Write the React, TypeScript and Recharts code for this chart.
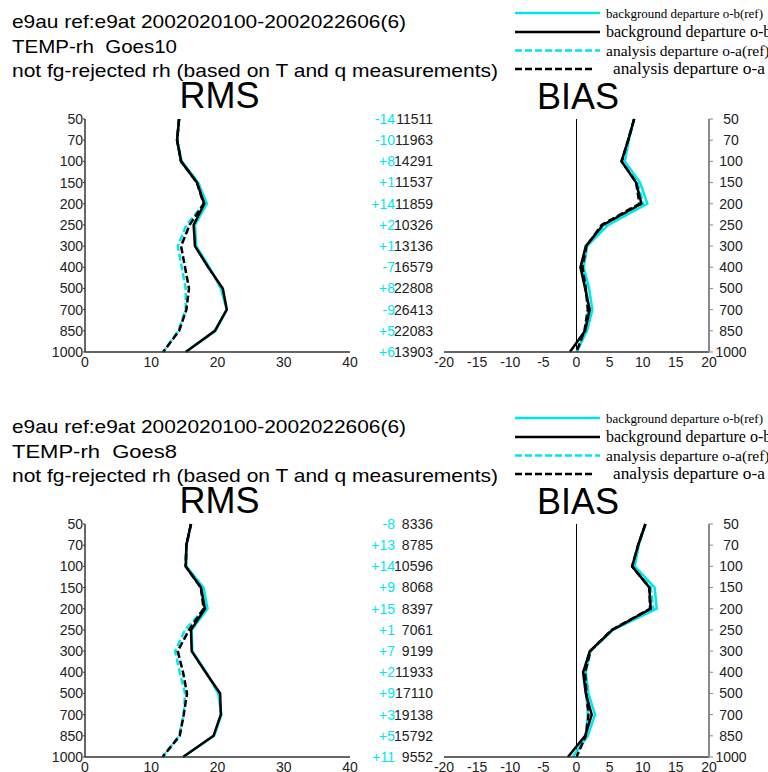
import React from 'react';
import { LineChart, Line, XAxis, YAxis, ReferenceLine } from 'recharts';

const CYAN = '#00e6f0';
const SANS = '"Liberation Sans", Arial, sans-serif';
const SERIF = '"Liberation Serif", "Times New Roman", serif';

// pressure levels (hPa), top to bottom
const levels = ['50', '70', '100', '150', '200', '250', '300', '400', '500', '700', '850', '1000'];
const rmsTicks = [0, 10, 20, 30, 40];
const biasTicks = [-20, -15, -10, -5, 0, 5, 10, 15, 20];

// Goes10
const g10RmsObRef = [14.2, 13.9, 14.6, 17.1, 18.4, 16.6, 16.8, 18.8, 20.5, 21.4, 19.7, 15.2];
const g10RmsOb = [14.2, 13.9, 14.5, 16.9, 18.0, 16.4, 16.6, 18.6, 20.8, 21.4, 19.6, 15.2];
const g10RmsOaRef = [14.2, 13.9, 14.5, 16.9, 18.0, 15.3, 14.0, 14.6, 15.2, 15.2, 14.1, 11.8];
const g10RmsOa = [14.2, 13.9, 14.5, 16.9, 17.9, 15.8, 14.5, 15.1, 15.7, 15.3, 14.2, 11.8];
const g10BiasObRef = [8.7, 7.9, 7.3, 9.6, 10.7, 4.8, 1.6, 1.1, 1.9, 2.4, 1.6, 0.0];
const g10BiasOb = [8.7, 7.8, 6.8, 9.0, 9.8, 4.0, 1.4, 0.6, 1.3, 2.0, 1.3, -1.0];
const g10BiasOaRef = [8.7, 7.8, 6.9, 9.2, 10.1, 4.3, 1.6, 0.9, 1.5, 1.8, 1.3, 0.1];
const g10BiasOa = [8.7, 7.8, 6.8, 9.0, 9.5, 3.8, 1.5, 0.9, 1.4, 1.7, 1.2, 0.0];
const g10Diff = ['-14', '-10', '+8', '+1', '+14', '+2', '+1', '-7', '+8', '-9', '+5', '+6'];
const g10Count = ['11511', '11963', '14291', '11537', '11859', '10326', '13136', '16579', '22808', '26413', '22083', '13903'];

// Goes8
const g8RmsObRef = [16.0, 15.3, 15.3, 17.9, 18.5, 16.1, 16.2, 18.3, 20.1, 20.6, 19.5, 14.8];
const g8RmsOb = [16.0, 15.3, 15.2, 17.5, 18.1, 16.0, 16.1, 18.2, 20.4, 20.5, 19.4, 14.8];
const g8RmsOaRef = [16.0, 15.3, 15.2, 17.5, 18.0, 15.1, 13.6, 14.3, 15.1, 14.9, 14.2, 11.7];
const g8RmsOa = [16.0, 15.3, 15.2, 17.5, 17.9, 15.7, 14.0, 14.8, 15.4, 14.9, 14.3, 11.7];
const g8BiasObRef = [10.4, 9.4, 8.8, 11.8, 12.1, 5.5, 2.1, 1.4, 1.8, 2.8, 1.7, -0.6];
const g8BiasOb = [10.4, 9.3, 8.4, 11.0, 11.2, 5.4, 2.0, 1.0, 1.4, 2.3, 1.3, -1.3];
const g8BiasOaRef = [10.4, 9.3, 8.5, 11.2, 11.6, 5.5, 2.1, 1.3, 1.5, 1.7, 1.4, -0.4];
const g8BiasOa = [10.4, 9.3, 8.4, 11.0, 11.1, 5.3, 2.1, 1.3, 1.5, 1.8, 1.4, 0.0];
const g8Diff = ['-8', '+13', '+14', '+9', '+15', '+1', '+7', '+2', '+9', '+3', '+5', '+11'];
const g8Count = ['8336', '8785', '10596', '8068', '8397', '7061', '9199', '11933', '17110', '19138', '15792', '9552'];

// drawing order: cyan under black
const series = [
  { key: 'obRef', name: 'background departure o-b(ref)', color: CYAN, dash: undefined },
  { key: 'oaRef', name: 'analysis departure o-a(ref)', color: CYAN, dash: '7 3' },
  { key: 'ob', name: 'background departure o-b', color: '#000', dash: undefined },
  { key: 'oa', name: 'analysis departure o-a', color: '#000', dash: '7 3' },
];

// legend rows as drawn in the original (order, font size, text x)
const legendRows = [
  { key: 'obRef', size: 13, tx: 606, y: 13, len: 157 },
  { key: 'ob', size: 16, tx: 606, y: 32, len: 0 },
  { key: 'oaRef', size: 15.5, tx: 606, y: 50.5, len: 0 },
  { key: 'oa', size: 16.5, tx: 613, y: 69, len: 152 },
];

const mkRows = (ob: number[], obRef: number[], oa: number[], oaRef: number[]) =>
  levels.map((level, i) => ({ level, ob: ob[i], obRef: obRef[i], oa: oa[i], oaRef: oaRef[i] }));

const tickFont = { fill: '#222', fontSize: 14, fontFamily: SANS };

interface PanelProps {
  top: number;
  name: string;
  rms: any[];
  bias: any[];
  diff: string[];
  count: string[];
}

const Panel = ({ top, name, rms, bias, diff, count }: PanelProps) => {
  const CountTick = (p: any) => {
    const i = levels.indexOf(String(p.payload.value));
    return (
      <g>
        <text x={p.x + 45} y={p.y} dy="0.35em" textAnchor="end" fill={CYAN} fontSize={14} fontFamily={SANS}>{diff[i]}</text>
        <text x={p.x + 83} y={p.y} dy="0.35em" textAnchor="end" fill="#222" fontSize={14} fontFamily={SANS}>{count[i]}</text>
      </g>
    );
  };
  const LevelTick = (p: any) => (
    <text x={p.x + 16} y={p.y} dy="0.35em" textAnchor="middle" fill="#222" fontSize={14} fontFamily={SANS}>
      {p.payload.value}
    </text>
  );

  return (
    <>
      <svg width={768} height={125} style={{ position: 'absolute', left: 0, top }}>
        <text x={12} y={28} fontSize={19} fontFamily={SANS} fill="#000" textLength={394} lengthAdjust="spacingAndGlyphs">
          e9au ref:e9at 2002020100-2002022606(6)
        </text>
        <text x={12} y={53} fontSize={19} fontFamily={SANS} fill="#000" textLength={165} lengthAdjust="spacingAndGlyphs" style={{ whiteSpace: 'pre' }}>
          {`TEMP-rh  ${name}`}
        </text>
        <text x={12} y={77} fontSize={19} fontFamily={SANS} fill="#000" textLength={486} lengthAdjust="spacingAndGlyphs">
          not fg-rejected rh (based on T and q measurements)
        </text>
        <text x={219.5} y={108} fontSize={36} fontFamily={SANS} textAnchor="middle" fill="#000">RMS</text>
        <text x={578} y={109} fontSize={36} fontFamily={SANS} textAnchor="middle" fill="#000">BIAS</text>
        {legendRows.map((r) => {
          const s = series.find((d) => d.key === r.key)!;
          return (
            <g key={r.key}>
              <line x1={515} x2={r.key === 'oa' ? 593 : 600} y1={r.y} y2={r.y} stroke={s.color} strokeWidth={2.5} strokeDasharray={s.dash} />
              <text
                x={r.tx}
                y={r.y + 5}
                fontSize={r.size}
                fontFamily={SERIF}
                fill="#000"
                {...(r.len ? { textLength: r.len, lengthAdjust: 'spacingAndGlyphs' } : {})}
              >
                {s.name}
              </text>
            </g>
          );
        })}
      </svg>

      <div style={{ position: 'absolute', left: 0, top: top + 100 }}>
        <LineChart layout="vertical" width={440} height={280} data={rms} margin={{ top: 19, right: 0, bottom: 0, left: 0 }}>
          <XAxis
            type="number"
            domain={[0, 40]}
            ticks={rmsTicks}
            height={28}
            tickSize={3}
            tickMargin={2}
            tickLine={false}
            axisLine={{ stroke: '#333', strokeWidth: 1.5 }}
            tick={tickFont}
          />
          <YAxis
            type="category"
            dataKey="level"
            scale="point"
            width={85}
            tickSize={2}
            tickMargin={0}
            interval={0}
            axisLine={{ stroke: '#333', strokeWidth: 1.5 }}
            tickLine={{ stroke: '#333' }}
            tick={tickFont}
          />
          <YAxis
            yAxisId="cnt"
            orientation="right"
            type="category"
            dataKey="level"
            scale="point"
            width={90}
            tickSize={0}
            tickMargin={0}
            interval={0}
            axisLine={false}
            tickLine={false}
            tick={<CountTick />}
          />
          {series.map((s) => (
            <Line
              key={s.key}
              type="linear"
              dataKey={s.key}
              stroke={s.color}
              strokeWidth={2.5}
              strokeDasharray={s.dash}
              dot={false}
              isAnimationActive={false}
            />
          ))}
        </LineChart>
      </div>

      <div style={{ position: 'absolute', left: 420, top: top + 100 }}>
        <LineChart layout="vertical" width={348} height={280} data={bias} margin={{ top: 19, right: 0, bottom: 0, left: 24 }}>
          <XAxis
            type="number"
            domain={[-20, 20]}
            ticks={biasTicks}
            height={28}
            tickSize={3}
            tickMargin={2}
            tickLine={false}
            axisLine={{ stroke: '#333', strokeWidth: 1.5 }}
            tick={tickFont}
          />
          <YAxis
            type="category"
            dataKey="level"
            orientation="right"
            scale="point"
            width={59}
            tickSize={4}
            tickMargin={2}
            interval={0}
            axisLine={{ stroke: '#888', strokeWidth: 2 }}
            tickLine={{ stroke: '#888' }}
            tick={<LevelTick />}
          />
          <ReferenceLine x={0} stroke="#000" strokeWidth={1} />
          {series.map((s) => (
            <Line
              key={s.key}
              type="linear"
              dataKey={s.key}
              stroke={s.color}
              strokeWidth={2.5}
              strokeDasharray={s.dash}
              dot={false}
              isAnimationActive={false}
            />
          ))}
        </LineChart>
      </div>
    </>
  );
};

export default function App() {
  return (
    <div style={{ position: 'absolute', left: 0, top: 0, width: 768, height: 772, background: '#fff', overflow: 'hidden' }}>
      <Panel
        top={0}
        name="Goes10"
        rms={mkRows(g10RmsOb, g10RmsObRef, g10RmsOa, g10RmsOaRef)}
        bias={mkRows(g10BiasOb, g10BiasObRef, g10BiasOa, g10BiasOaRef)}
        diff={g10Diff}
        count={g10Count}
      />
      <Panel
        top={405}
        name="Goes8"
        rms={mkRows(g8RmsOb, g8RmsObRef, g8RmsOa, g8RmsOaRef)}
        bias={mkRows(g8BiasOb, g8BiasObRef, g8BiasOa, g8BiasOaRef)}
        diff={g8Diff}
        count={g8Count}
      />
    </div>
  );
}
